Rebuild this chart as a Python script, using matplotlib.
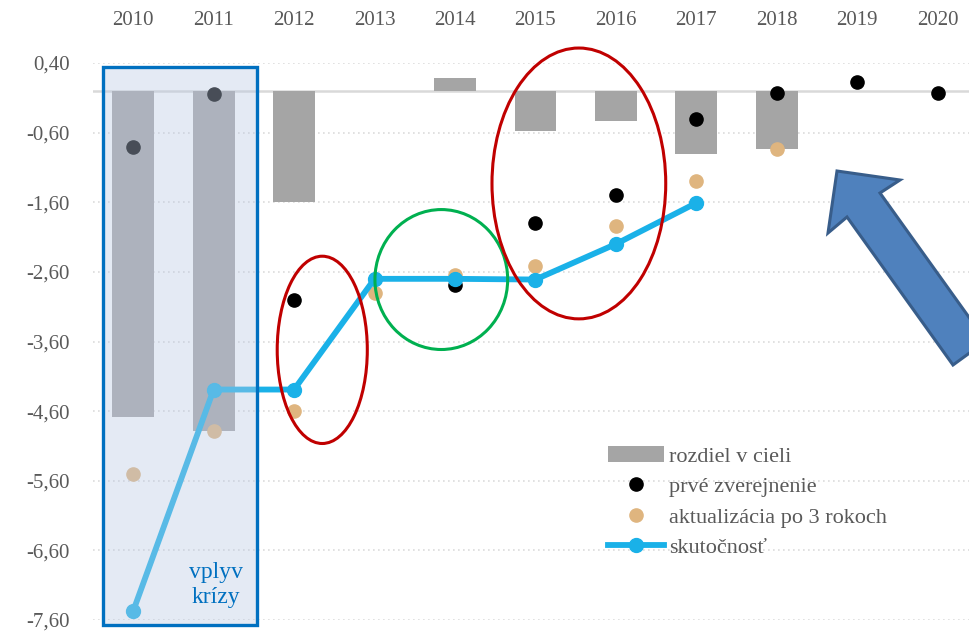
import numpy as np
import matplotlib.pyplot as plt
from matplotlib.patches import Rectangle, Ellipse, Polygon

YEARS = ['2010', '2011', '2012', '2013', '2014', '2015', '2016', '2017', '2018', '2019', '2020']
Y_TICKS = [0.4, -0.6, -1.6, -2.6, -3.6, -4.6, -5.6, -6.6, -7.6]
Y_LABELS = ['0,40', '-0,60', '-1,60', '-2,60', '-3,60', '-4,60', '-5,60', '-6,60', '-7,60']

# rozdiel v cieli (nan = no bar)
gap = [-4.69, -4.89, -1.59, np.nan, 0.19, -0.57, -0.44, -0.90, -0.84, np.nan, np.nan]
# prve zverejnenie
first = [-0.81, -0.04, -3.00, np.nan, -2.79, -1.90, -1.50, -0.41, -0.03, 0.13, -0.03]
# aktualizacia po 3 rokoch
update3 = [-5.50, -4.89, -4.60, -2.90, -2.64, -2.51, -1.94, -1.30, -0.84, np.nan, np.nan]
# skutocnost
actual = [-7.47, -4.29, -4.29, -2.70, -2.70, -2.71, -2.20, -1.61]

LABELS = ['rozdiel v cieli', 'prvé zverejnenie', 'aktualizácia po 3 rokoch', 'skutočnosť']

GREY = '#a5a5a5'
TAN = '#dfb57f'
CYAN = '#1ab1e8'
TXT = '#595959'

W, H = 969, 631
fig = plt.figure(figsize=(W / 100, H / 100), dpi=100)
plt.rcParams['font.family'] = ['Liberation Serif', 'DejaVu Serif']


def fx(px):
    return px / W


def fy(py):
    return 1 - py / H


ax = fig.add_axes([fx(93), fy(620), fx(969) - fx(93), fy(63) - fy(620)])
x = np.arange(len(YEARS))

for v in Y_TICKS:
    ax.axhline(v, color='#dcdcdc', lw=1.2, ls=(0, (1, 2)), zorder=0)
ax.axhline(0, color='#d9d9d9', lw=1.8, zorder=1)

bars = ax.bar(x, gap, width=0.52, color=GREY, zorder=2, label=LABELS[0])
p1, = ax.plot(x, first, 'o', color='black', ms=9.5, zorder=3, label=LABELS[1])
p2, = ax.plot(x, update3, 'o', color=TAN, ms=9.5, zorder=3, label=LABELS[2])
p3, = ax.plot(x[:len(actual)], actual, '-o', color=CYAN, lw=4.2, ms=10, zorder=4, label=LABELS[3])

ax.set_xlim(-0.5, 10.39)
ax.set_ylim(-7.6, 0.4)
ax.xaxis.tick_top()
ax.set_xticks(x)
ax.set_xticklabels(YEARS)
ax.set_yticks(Y_TICKS)
ax.set_yticklabels(Y_LABELS)
ax.tick_params(axis='x', length=0, pad=24, labelsize=15, labelcolor=TXT)
ax.tick_params(axis='y', length=0, pad=17, labelsize=15, labelcolor=TXT)
for s in ax.spines.values():
    s.set_visible(False)

# crisis box
bx0, bx1 = -0.373, 1.54
by0, by1 = -7.67, 0.343
ax.add_patch(Rectangle((bx0, by0), bx1 - bx0, by1 - by0, facecolor=(186 / 255, 201 / 255, 227 / 255),
                       alpha=0.39, edgecolor='none', zorder=5, clip_on=False))
ax.add_patch(Rectangle((bx0, by0), bx1 - bx0, by1 - by0, facecolor='none', edgecolor='#0070c0',
                       lw=2.4, zorder=6, clip_on=False))
ax.text(1.03, -7.1, 'vplyv\nkrízy', color='#0070c0', fontsize=17, ha='center', va='center',
        linespacing=1.25, zorder=7)

# highlight ellipses
ax.add_patch(Ellipse((2.35, -3.72), 1.12, 2.69, fill=False, edgecolor='#c00000', lw=2.2, zorder=6, clip_on=False))
ax.add_patch(Ellipse((3.83, -2.71), 1.65, 2.01, fill=False, edgecolor='#00b050', lw=2.2, zorder=6, clip_on=False))
ax.add_patch(Ellipse((5.54, -1.33), 2.16, 3.89, fill=False, edgecolor='#c00000', lw=2.2, zorder=6, clip_on=False))

# big arrow
arrow_px = [(837, 171), (900, 180), (880, 193), (986, 341), (953, 365), (847, 217), (828, 233)]
fig.patches.append(Polygon([(fx(a), fy(b)) for a, b in arrow_px], closed=True, transform=fig.transFigure,
                           facecolor='#4f81bd', edgecolor='#385d8a', lw=2.2, zorder=10))

leg = ax.legend(handles=[bars, p1, p2, p3], loc='upper left', bbox_to_anchor=(fx(608), fy(446)),
                bbox_transform=fig.transFigure, frameon=False, fontsize=16, handlelength=2.5,
                handletextpad=0.25, labelspacing=0.45, borderaxespad=0, borderpad=0)
for t in leg.get_texts():
    t.set_color(TXT)

fig.savefig('out.png', dpi=100)
